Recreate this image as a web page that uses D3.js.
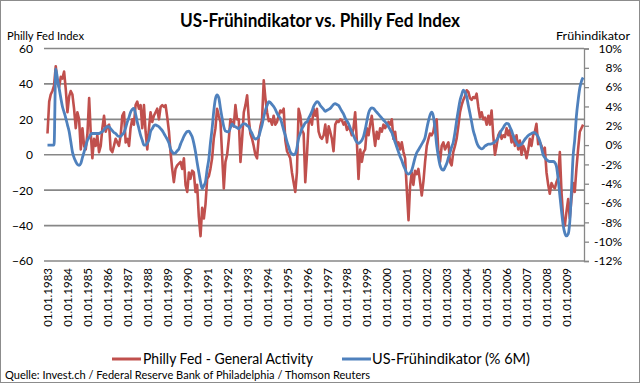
<!DOCTYPE html>
<html>
<head>
<meta charset="utf-8">
<script src="https://cdn.jsdelivr.net/npm/d3@7"></script>
<style>
  html, body { margin: 0; padding: 0; background: #fff; }
  svg { display: block; }
  text { font-family: Lato, "Open Sans", sans-serif; fill: #000; }
</style>
</head>
<body>
<svg id="chart" width="640" height="383"></svg>
<script>
// ---- data (monthly, starting January 1983) ----
const startYear = 1983;
const tickYears = [1983,1984,1985,1986,1987,1988,1989,1990,1991,1992,1993,1994,1995,1996,
                   1997,1998,1999,2000,2001,2002,2003,2004,2005,2006,2007,2008,2009];
const leftTicks = [-60,-40,-20,0,20,40,60];
const rightTicks = [-12,-10,-8,-6,-4,-2,0,2,4,6,8,10];

// Philly Fed - General Activity (index)
const phillyFed = [
  12, 30, 34, 36, 39, 50, 41, 38, 44, 43, 47, 37,
  24, 33, 36, 34, 26, 15, 24, 20, 3, 15, 5, 3,
  12, 32, 13, -2, 9, 5, 11, 1.5, 5, 15, 22, 13,
  16, 17, 3, 1.5, 5, 9, 7, 5, 11, 22, 24, 7,
  9, 5, 15, 20, 17, 28, 30, 26, 28, 15, 28, 13,
  3, 15, 24, 18.5, 22, 24, 26, 20, 27, 28, 27, 28,
  21, 13, 1.5, -8, -15.5, -8, -6, -5, -4, -8, -2, -17,
  -21, -10, -13.6, -9, -10, -21, -17, -35, -46, -30, -36, -28,
  -13.6, -12, -8, -2, 9, 15, 26, 22, 18.5, 0, -19, -4,
  0, 9, 20, 18, 16, 28, 20, 20, -4, 9, 24, 28,
  33.6, 20, 12, 9, 5, 0, -2, 10, 16, 20, 42, 32,
  24, 19, 20, 17, 22, 17, 18.5, 22, 25, 24, 26, 8,
  2, 0, -2, -10, -15.5, -21, -10, 26, 22, 14, 12, -15.5,
  0, 18, 20, 17, 26, 22, 26, 13, 10, 9, 11, 17,
  7, 16, 13, 9, 2, 17, 19, 18.5, 20, 19.5, 17, 18.5,
  14, 16, 14, 11, 15, 24, 8, -13.6, 3, -4, 1.5, 3,
  15, 11, 17, 22, 13, 5, 13, 9, 15, 13, 17, 15,
  17, 18.5, 17, 20, 9, 13, 5, 7, 3, 7, 1.5, -2,
  -20, -37, -18, -10, -17, -9, -11, -8, -15.5, -23, -15, -4,
  5, 9, 12, 11, 13, 18.5, 20, 2, -4, 5, 7, 3,
  5, 7, -4, -6, 1.5, 5, 9, 16, 24, 28, 31, 33,
  36.4, 35.5, 32, 31, 32.6, 32, 34.5, 27, 21, 24, 20, 21,
  17, 22, 17, 25, 11, 0, 5, 11, 13, 9, 11, 10,
  15, 11, 14, 7, 11, 5, 11, 3, 8, 0, 5, 3,
  -2, 3, 9, 5, 11, 13, 17.5, 6, 7, 5, 1.5, 4,
  -10, -17, -22, -16, -18, -19, -15.5, -13, 1.5, -21, -36, -40,
  -32, -25, -36, -25, -16, -21, -8, 3, 13, 15, 17
];

// US-Frühindikator (% 6M), percent
const fruehindikator = [
  0, 0, 0, 0, 0, 7.9, 6.9, 5.9, 4.9, 4.0, 3.4, 2.8,
  2.1, 1.4, 0.4, -0.7, -1.3, -1.7, -2.0, -2.1, -1.9, -1.3, -0.7, -0.1,
  0.5, 0.8, 1.1, 1.2, 1.2, 1.2, 1.2, 1.2, 1.3, 1.4, 1.6, 1.8,
  1.9, 1.9, 1.7, 1.5, 1.3, 1.2, 1.0, 0.9, 0.9, 1.1, 1.3, 1.8,
  2.4, 2.9, 3.4, 3.7, 3.8, 3.2, 2.4, 1.7, 1.0, 0.5, 0.0, 0.0,
  0.2, 0.6, 1.4, 1.7, 2.0, 2.1, 2.0, 1.9, 1.7, 1.5, 1.2, 0.9,
  0.6, 0.2, -0.4, -0.7, -0.86, -0.8, -0.6, -0.4, 0.1, 0.5, 0.9, 1.2,
  1.4, 1.45, 1.2, 0.86, 0.2, -0.7, -1.8, -2.8, -3.8, -4.5, -4.2, -3.8,
  -2.5, -1.4, 0.2, 1.7, 3.5, 4.8, 5.2, 4.9, 3.8, 2.8, 1.9, 1.45,
  1.4, 1.38, 1.8, 2.2, 2.0, 1.9, 1.8, 1.7, 1.9, 2.1, 2.2, 2.2,
  2.0, 1.9, 1.5, 1.2, 0.8, 0.62, 0.7, 0.86, 1.5, 2.1, 2.9, 3.6,
  4.1, 4.5, 4.4, 4.2, 4.0, 3.7, 3.3, 3.0, 2.76, 2.2, 1.55, 1.0,
  0.34, -0.2, -0.7, -0.9, -1.0, -0.9, -0.3, 0.7, 1.2, 1.7, 2.0, 2.3,
  2.4, 2.8, 3.1, 3.5, 4.0, 4.3, 4.5, 4.4, 4.1, 3.9, 3.7, 3.5,
  3.6, 3.7, 3.8, 4.0, 4.2, 4.3, 4.2, 4.1, 3.8, 3.5, 3.2, 2.8,
  2.5, 2.2, 1.8, 1.4, 1.0, 0.6, 0.3, 0.17, 0.3, 0.5, 0.9, 1.6,
  2.5, 3.3, 3.7, 3.86, 3.8, 3.6, 3.4, 3.2, 3.0, 2.8, 2.6, 2.4,
  2.2, 1.9, 1.6, 1.3, 0.8, 0.3, -0.2, -0.7, -1.2, -1.6, -2.1, -2.5,
  -2.9, -3.0, -2.9, -2.6, -2.0, -1.3, -0.8, -0.5, -0.2, 0.1, 0.4, 0.8,
  1.7, 2.5, 3.1, 3.4, 3.0, 1.7, 0.0, -1.2, -2.1, -2.5, -2.6, -2.3,
  -1.9, -1.3, -0.8, -0.2, 0.3, 1.3, 2.5, 3.6, 4.6, 5.2, 5.7, 5.5,
  5.0, 4.1, 3.3, 2.4, 1.5, 0.9, 0.3, -0.1, -0.3, -0.4, -0.3, -0.1,
  0.0, 0.1, 0.1, 0.14, 0.2, 0.35, 0.5, 0.8, 1.2, 1.55, 1.8, 2.1,
  2.24, 2.2, 1.9, 1.5, 1.0, 0.5, 0.2, -0.07, 0.0, 0.1, 0.34, 0.6,
  0.8, 1.0, 1.1, 1.2, 1.3, 1.3, 1.1, 0.86, 0.4, -0.3, -1.0, -1.3,
  -1.5, -1.65, -1.7, -1.7, -1.7, -1.8, -2.2, -3.5, -5.2, -6.8, -8.3, -9.1,
  -9.4, -9.2, -8.0, -4.8, -1.2, 0.6, 3.0, 4.6, 5.9, 6.6, 7.0
];

const titleText = "US-Frühindikator vs. Philly Fed Index";
const leftTitle = "Philly Fed Index";
const rightTitle = "Frühindikator";
const seriesNames = ["Philly Fed - General Activity", "US-Frühindikator (% 6M)"];
const sourceText = "Quelle: Invest.ch / Federal Reserve Bank of Philadelphia / Thomson Reuters";

// ---- drawing ----
const RED = "#C0504D", BLUE = "#4F81BD", GRID = "#878787";
const svg = d3.select("#chart");
const W = 640, H = 383;
const plot = {left: 44, right: 584, top: 48.5, bottom: 261};

svg.append("rect").attr("x", 0.5).attr("y", 0.5).attr("width", W - 1).attr("height", H - 1)
  .attr("fill", "#fff").attr("stroke", "#8c8c8c").attr("stroke-width", 1);

const monthDate = i => new Date(startYear, i, 1);
const x = d3.scaleTime()
  .domain([new Date(1982, 9, 29), new Date(2009, 10, 17)])
  .range([plot.left, plot.right]);
const yL = d3.scaleLinear().domain([-60, 60]).range([plot.bottom, plot.top]);
const yR = d3.scaleLinear().domain([-12, 10]).range([plot.bottom, plot.top]);

// gridlines (left axis)
svg.append("g").selectAll("line").data(leftTicks).join("line")
  .attr("x1", plot.left).attr("x2", plot.right)
  .attr("y1", d => yL(d)).attr("y2", d => yL(d))
  .attr("stroke", GRID).attr("stroke-width", 1.6);

// left axis labels
const gl = svg.append("g").attr("transform", `translate(${plot.left - 11},0)`)
  .call(d3.axisLeft(yL).tickValues(leftTicks).tickSize(0).tickPadding(0));
gl.select(".domain").remove();
gl.selectAll("text").style("font-size", "12px").style("font-family", "Lato, sans-serif").attr("fill", "#000");

// right axis
const gr = svg.append("g").attr("transform", `translate(${plot.right},0)`)
  .call(d3.axisRight(yR).tickValues(rightTicks).tickSize(5).tickPadding(4)
    .tickFormat(d => d + "%"));
gr.select(".domain").attr("stroke", GRID).attr("stroke-width", 1.3);
gr.selectAll(".tick line").attr("stroke", GRID).attr("stroke-width", 1.3);
gr.selectAll("text").style("font-size", "12px").style("font-family", "Lato, sans-serif")
  .attr("fill", "#000").attr("text-anchor", "end").attr("x", 38);

// x axis labels (rotated)
const gx = svg.append("g").attr("transform", `translate(0,${plot.bottom})`)
  .call(d3.axisBottom(x).tickValues(tickYears.map(y => new Date(y, 0, 1)))
    .tickSize(0).tickFormat(d3.timeFormat("%d.%m.%Y")));
gx.select(".domain").remove();
gx.selectAll("text")
  .style("font-size", "11.5px").style("font-family", "Lato, sans-serif").attr("fill", "#000")
  .attr("transform", "rotate(-90)")
  .attr("text-anchor", "end")
  .attr("x", -7).attr("y", 0).attr("dy", "0.35em");

// lines
const redLine = d3.line().x((d, i) => x(monthDate(i))).y(d => yL(d));
const blueLine = d3.line().x((d, i) => x(monthDate(i))).y(d => yR(d)).curve(d3.curveMonotoneX);
svg.append("path").datum(phillyFed).attr("d", redLine)
  .attr("fill", "none").attr("stroke", RED).attr("stroke-width", 2.6).attr("stroke-linejoin", "round");
svg.append("path").datum(fruehindikator).attr("d", blueLine)
  .attr("fill", "none").attr("stroke", BLUE).attr("stroke-width", 2.8).attr("stroke-linejoin", "round");

// title and axis titles
svg.append("text").attr("x", 320).attr("y", 27).attr("text-anchor", "middle")
  .style("font-size", "18px").style("font-weight", "bold")
  .attr("textLength", 280).attr("lengthAdjust", "spacingAndGlyphs").text(titleText);
svg.append("text").attr("x", 7).attr("y", 40).style("font-size", "11px")
  .attr("textLength", 77).attr("lengthAdjust", "spacingAndGlyphs").text(leftTitle);
svg.append("text").attr("x", 630).attr("y", 40).attr("text-anchor", "end").style("font-size", "11px")
  .attr("textLength", 74).attr("lengthAdjust", "spacingAndGlyphs").text(rightTitle);

// legend
const legend = [
  {name: seriesNames[0], color: RED, x0: 112, tx: 143, len: 170},
  {name: seriesNames[1], color: BLUE, x0: 342, tx: 372, len: 158}
];
const lg = svg.append("g");
legend.forEach(l => {
  lg.append("line").attr("x1", l.x0).attr("x2", l.x0 + 29).attr("y1", 359).attr("y2", 359)
    .attr("stroke", l.color).attr("stroke-width", 3);
  lg.append("text").attr("x", l.tx).attr("y", 364).style("font-size", "14.5px")
    .attr("textLength", l.len).attr("lengthAdjust", "spacingAndGlyphs").text(l.name);
});

// source
svg.append("text").attr("x", 5).attr("y", 379).style("font-size", "11px")
  .attr("textLength", 365).attr("lengthAdjust", "spacingAndGlyphs").text(sourceText);
</script>
</body>
</html>
